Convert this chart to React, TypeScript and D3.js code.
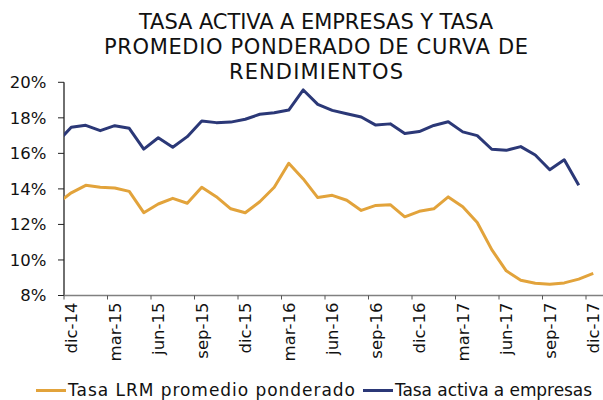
import React, { useEffect, useRef } from "react";
import * as d3 from "d3";

// months: nov-14 is only there so the lines enter the plot from the left edge
const months = [
  "nov-14", "dic-14", "ene-15", "feb-15", "mar-15", "abr-15", "may-15", "jun-15", "jul-15", "ago-15", "sep-15", "oct-15", "nov-15",
  "dic-15", "ene-16", "feb-16", "mar-16", "abr-16", "may-16", "jun-16", "jul-16", "ago-16", "sep-16", "oct-16", "nov-16",
  "dic-16", "ene-17", "feb-17", "mar-17", "abr-17", "may-17", "jun-17", "jul-17", "ago-17", "sep-17", "oct-17", "nov-17",
  "dic-17",
];
const tickLabels = ["dic-14", "mar-15", "jun-15", "sep-15", "dic-15", "mar-16", "jun-16", "sep-16", "dic-16", "mar-17", "jun-17", "sep-17", "dic-17"];
const yTicks = [8, 10, 12, 14, 16, 18, 20];

const tasaLRM = [
  13.15, 13.78, 14.2, 14.09, 14.05, 13.86, 12.66, 13.15, 13.47, 13.19, 14.09, 13.56, 12.88,
  12.66, 13.28, 14.09, 15.44, 14.56, 13.51, 13.64, 13.36, 12.79, 13.07, 13.11, 12.43,
  12.74, 12.88, 13.55, 13.0, 12.11, 10.58, 9.39, 8.86, 8.69, 8.63, 8.71, 8.92,
  9.24,
];
const tasaActiva: (number | null)[] = [
  16.6, 17.47, 17.58, 17.28, 17.56, 17.41, 16.24, 16.88, 16.34, 16.94, 17.82, 17.73, 17.76,
  17.92, 18.2, 18.29, 18.44, 19.57, 18.76, 18.42, 18.23, 18.05, 17.59, 17.66, 17.12,
  17.23, 17.57, 17.78, 17.21, 17.0, 16.23, 16.17, 16.38, 15.91, 15.08, 15.64, 14.2,
  null,
];

const titleLines = ["TASA ACTIVA A EMPRESAS Y TASA", "PROMEDIO PONDERADO DE CURVA DE", "RENDIMIENTOS"];
const seriesNames = ["Tasa LRM promedio ponderado", "Tasa activa a empresas"];
const colors = ["#e2a33b", "#2b3877"];

export default function App() {
  const ref = useRef<SVGSVGElement>(null);

  useEffect(() => {
    const width = 603;
    const height = 400;
    const plotLeft = 64;
    const plotRight = 603;
    const plotTop = 82.3;
    const plotBottom = 295.5;
    const font = "'DejaVu Sans', sans-serif";

    const svg = d3.select(ref.current);
    svg.selectAll("*").remove();
    svg.attr("width", width).attr("height", height);

    const bw = 14.5;
    const x = d3.scaleBand<string>()
      .domain(months)
      .range([plotLeft - bw, plotLeft - bw + months.length * bw]);
    const cx = (m: string) => (x(m) as number) + bw / 2;

    const y = d3.scaleLinear().domain([8, 20]).range([plotBottom, plotTop]);

    // title, widths fitted to the original lines
    const titleWidths = [354, 424, 174];
    svg.append("g").selectAll("text")
      .data(titleLines)
      .enter()
      .append("text")
      .attr("x", 316)
      .attr("y", (d, i) => 28.5 + i * 25)
      .attr("text-anchor", "middle")
      .attr("font-family", font)
      .attr("font-size", 21)
      .attr("textLength", (d, i) => titleWidths[i])
      .attr("lengthAdjust", "spacing")
      .attr("fill", "#111")
      .text((d) => d);

    svg.append("clipPath").attr("id", "plotclip")
      .append("rect")
      .attr("x", plotLeft).attr("y", 0)
      .attr("width", plotRight - plotLeft).attr("height", height);

    // y axis
    svg.append("line")
      .attr("x1", plotLeft).attr("x2", plotLeft)
      .attr("y1", plotTop).attr("y2", plotBottom)
      .attr("stroke", "#222").attr("stroke-width", 1.3);
    svg.append("g").selectAll("line")
      .data(yTicks)
      .enter()
      .append("line")
      .attr("x1", plotLeft - 6).attr("x2", plotLeft)
      .attr("y1", (d) => y(d)).attr("y2", (d) => y(d))
      .attr("stroke", "#222").attr("stroke-width", 1);
    svg.append("g").selectAll("text")
      .data(yTicks)
      .enter()
      .append("text")
      .attr("x", 46.5)
      .attr("y", (d) => y(d))
      .attr("dy", "0.36em")
      .attr("text-anchor", "end")
      .attr("font-family", font)
      .attr("font-size", 16.5)
      .attr("fill", "#111")
      .text((d) => d + "%");

    // x axis
    svg.append("line")
      .attr("x1", plotLeft).attr("x2", plotRight)
      .attr("y1", plotBottom).attr("y2", plotBottom)
      .attr("stroke", "#808080").attr("stroke-width", 1.3);
    svg.append("g").selectAll("line")
      .data(tickLabels)
      .enter()
      .append("line")
      .attr("x1", (d) => x(d) as number).attr("x2", (d) => x(d) as number)
      .attr("y1", plotBottom).attr("y2", plotBottom + 4)
      .attr("stroke", "#555").attr("stroke-width", 1);
    svg.append("g").selectAll("text")
      .data(tickLabels)
      .enter()
      .append("text")
      .attr("transform", (d) => `translate(${cx(d) + 6},${plotBottom + 7}) rotate(-90)`)
      .attr("text-anchor", "end")
      .attr("font-family", font)
      .attr("font-size", 16.5)
      .attr("fill", "#111")
      .text((d) => d);

    // lines
    const plot = svg.append("g").attr("clip-path", "url(#plotclip)");
    const seriesData = [tasaLRM, tasaActiva];
    seriesData.forEach((vals, si) => {
      const line = d3.line<number | null>()
        .defined((d) => d !== null)
        .x((d, i) => cx(months[i]))
        .y((d) => y(d as number));
      plot.append("path")
        .datum(vals)
        .attr("d", line)
        .attr("fill", "none")
        .attr("stroke", colors[si])
        .attr("stroke-width", 3)
        .attr("stroke-linejoin", "round");
    });

    // legend
    const legendX = [36, 363];
    const legendW = [287, 197];
    const legend = svg.append("g").selectAll("g")
      .data(seriesNames)
      .enter()
      .append("g")
      .attr("transform", (d, i) => `translate(${legendX[i]},390.5)`);
    legend.append("line")
      .attr("x1", 0).attr("x2", 30)
      .attr("stroke", (d, i) => colors[i])
      .attr("stroke-width", 3);
    legend.append("text")
      .attr("x", 32)
      .attr("y", 5.5)
      .attr("font-family", font)
      .attr("font-size", 17)
      .attr("textLength", (d, i) => legendW[i])
      .attr("lengthAdjust", "spacing")
      .attr("fill", "#111")
      .text((d) => d);
  }, []);

  return (
    <svg ref={ref} style={{ position: "absolute", left: 0, top: 0, background: "#fff" }} />
  );
}
